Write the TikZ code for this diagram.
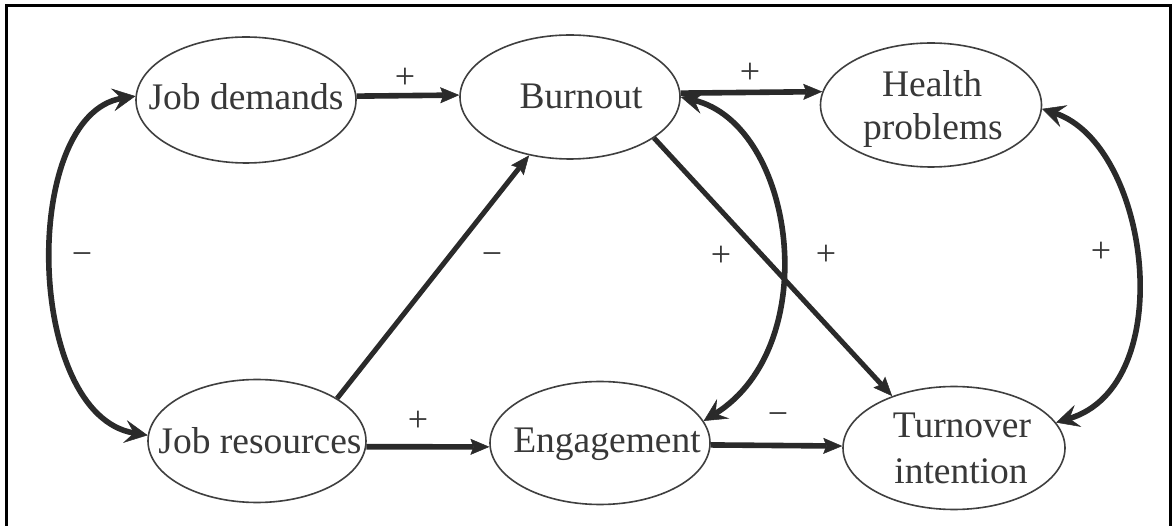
\documentclass[tikz,border=0pt]{standalone}
\usepackage{fontspec}
\setmainfont{Liberation Serif}
\usetikzlibrary{shapes.geometric,arrows.meta}
\definecolor{ink}{HTML}{2A2A2A}
\definecolor{txt}{HTML}{383838}
\begin{document}
\begin{tikzpicture}[x=1pt,y=-1pt,
  ell/.style={draw=ink!90, line width=1.6pt, ellipse, minimum width=220pt, minimum height=124pt, inner sep=0pt},
  lbl/.style={text=txt, font=\fontsize{37.5}{45}\selectfont, inner sep=0pt, anchor=base},
  sgn/.style={text=txt, font=\fontsize{36}{40}\selectfont, inner sep=0pt, text height=18pt, text depth=0pt},
  arr/.style={draw=ink, line width=5.6pt, -{Stealth[length=19pt,width=16pt,inset=3pt,line width=0.5pt]}},
  dbl/.style={draw=ink, line width=5.6pt,
    {Stealth[length=23pt,width=23pt,inset=9pt,line width=0.5pt]}-{Stealth[length=23pt,width=23pt,inset=9pt,line width=0.5pt]}},
  frame/.style={draw=black, line width=3pt}
]
\useasboundingbox (0,0) rectangle (1176,526);
\fill[white] (0,0) rectangle (1176,526);
\draw[frame] (6.5,526) -- (6.5,5.5) -- (1170,5.5) -- (1170,526);

% ellipses
\node[ell, minimum height=126pt] (jd) at (246,100) {};
\node[ell] (bo) at (570,97) {};
\node[ell, minimum width=221pt] (hp) at (931,105) {};
\node[ell, minimum width=218pt, minimum height=123pt] (jr) at (257,441) {};
\node[ell, minimum height=123pt] (en) at (600,443) {};
\node[ell, minimum width=222pt, minimum height=123pt] (ti) at (954,448) {};

% texts
\node[lbl] (jdt) at (246,110) {Job demands};
\node[lbl] (bot) at (581,109) {Burnout};
\node[lbl] (hpa) at (932,97) {Health};
\node[lbl] (hpb) at (933,140) {problems};
\node[lbl] (jrt) at (260,454) {Job resources};
\node[lbl] (ent) at (607,453) {Engagement};
\node[lbl] (tia) at (962,438) {Turnover};
\node[lbl] (tib) at (961,483) {intention};

% straight arrows
\draw[arr] (jd.2.6) -- (bo.179);
\draw[arr] (bo.2.6) -- (hp.173.3);
\draw[arr] (jr.-3.6) -- (en.182.6);
\draw[arr] (en.-1.6) -- (ti.179);
\draw[arr, line width=5pt] (jr.28) -- (bo.235);
\draw[arr, line width=5pt] (bo.-26) -- (ti.140);

% curved double arrows
\draw[dbl] (jd.178) .. controls (20,115) and (25,415) .. (jr.177);
\draw[dbl] (bo.0) .. controls (795,125) and (825,345) .. (en.12.6);
\draw[dbl] (hp.-2) .. controls (1150,145) and (1180,385) .. (ti.14);

% signs
\node[sgn] (s1) at (405,80) {+};
\node[sgn] (s2) at (750,75) {+};
\node[sgn] (s3) at (418,423) {+};
\node[sgn] (s4) at (778,417) {−};
\node[sgn] (s5) at (492,257) {−};
\node[sgn] (s6) at (82,257) {−};
\node[sgn] (s7) at (721,258) {+};
\node[sgn] (s8) at (826,257) {+};
\node[sgn] (s9) at (1101,254) {+};
\end{tikzpicture}
\end{document}
